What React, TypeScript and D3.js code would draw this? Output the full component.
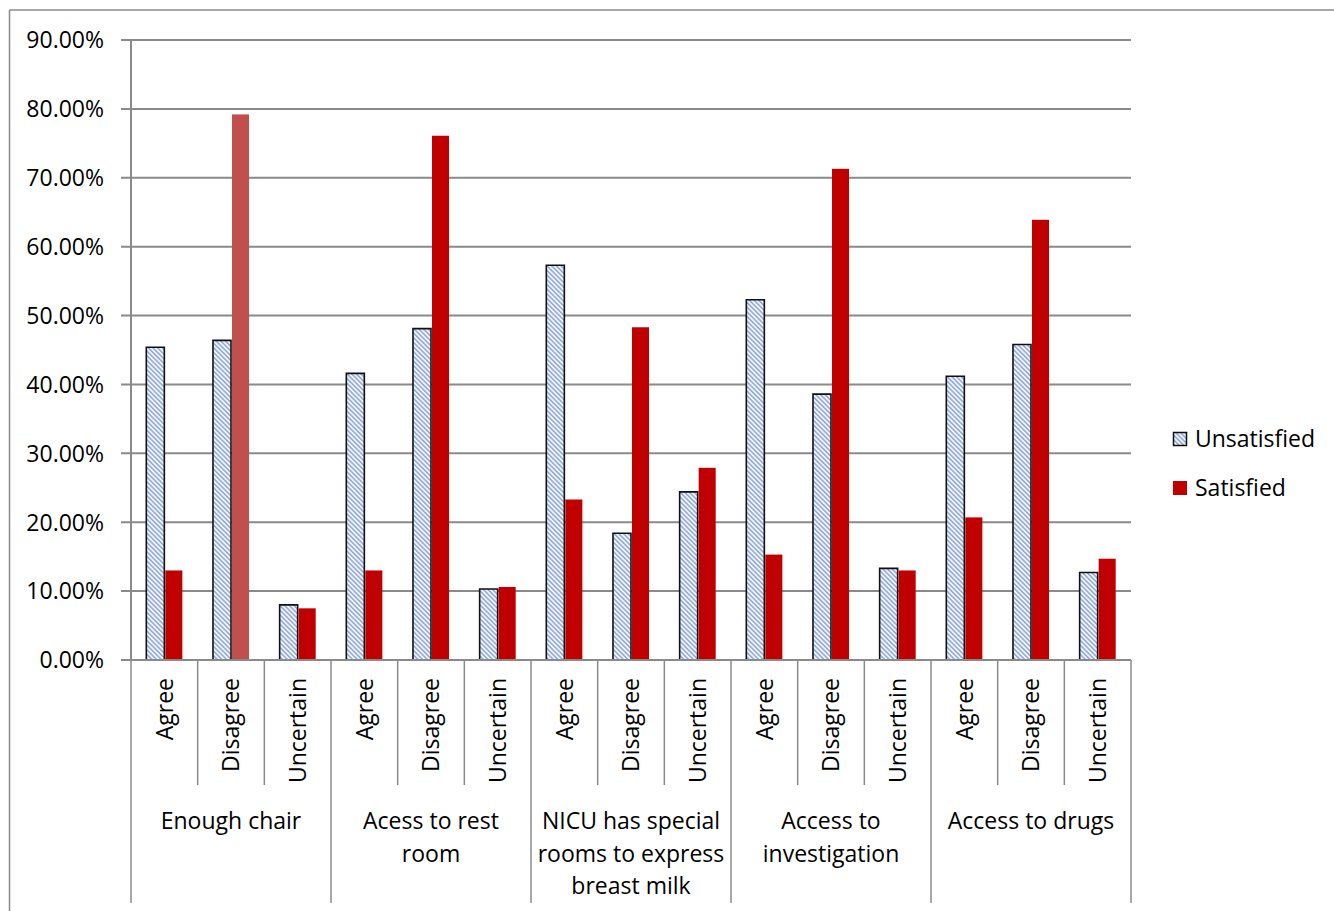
import React from 'react';
import * as d3 from 'd3';

const groupLabels = [
  ['Enough chair'],
  ['Acess to rest', 'room'],
  ['NICU has special', 'rooms to express', 'breast milk'],
  ['Access to', 'investigation'],
  ['Access to drugs'],
];
const responses = ['Agree', 'Disagree', 'Uncertain'];
const seriesNames = ['Unsatisfied', 'Satisfied'];
// percentages, in order group x response
const unsatisfied = [45.4, 46.4, 8.0, 41.6, 48.1, 10.3, 57.3, 18.4, 24.4, 52.3, 38.6, 13.3, 41.2, 45.8, 12.7];
const satisfied = [13.0, 79.2, 7.5, 13.0, 76.1, 10.6, 23.3, 48.3, 27.9, 15.3, 71.3, 13.0, 20.7, 63.9, 14.7];
const yTicks = [0, 10, 20, 30, 40, 50, 60, 70, 80, 90];

const highlightIndex = 1; // bar drawn in a lighter red in the original

export default function App() {
  const W = 1334;
  const H = 911;
  const left = 131;
  const right = 1131;
  const top = 40;
  const bottom = 660;
  const font = '"Open Sans", "Noto Sans", sans-serif';
  const grid = '#8a8a8a';
  const fs = 23;

  const cats = groupLabels.flatMap((_, gi) => responses.map((r) => ({ gi, r, key: `${gi}-${r}` })));
  const x = d3.scaleBand<string>().domain(cats.map((c) => c.key)).range([left, right]).paddingInner(0).paddingOuter(0);
  const xs = d3.scaleBand<string>().domain(seriesNames).range([0, x.bandwidth()]).paddingInner(0).paddingOuter(0.85);
  const y = d3.scaleLinear().domain([0, 90]).range([bottom, top]);
  const fmt = (v: number) => d3.format('.2f')(v) + '%';

  const boundaries = d3.range(cats.length + 1).map((i) => left + i * x.step());

  return (
    <svg width={W} height={H} style={{ position: 'fixed', left: 0, top: 0, background: '#fff' }} fontFamily={font}>
      <defs>
        <pattern id="hatch" patternUnits="userSpaceOnUse" width="3.3" height="3.3" patternTransform="rotate(-45)">
          <rect width="3.3" height="3.3" fill="#f1f5fb" />
          <line x1="0.8" y1="0" x2="0.8" y2="3.3" stroke="#7f9bcc" strokeWidth="1.3" />
        </pattern>
      </defs>
      {/* outer frame */}
      <line x1={9.5} y1={10} x2={W} y2={10} stroke={grid} strokeWidth={1.5} />
      <line x1={9.5} y1={10} x2={9.5} y2={H} stroke={grid} strokeWidth={1.5} />

      {/* gridlines and y ticks */}
      {yTicks.map((t) => (
        <g key={t}>
          <line x1={121} x2={right} y1={y(t)} y2={y(t)} stroke={grid} strokeWidth={2} />
          <text x={104} y={y(t)} dy="0.36em" textAnchor="end" fontSize={fs} fill="#000">
            {fmt(t)}
          </text>
        </g>
      ))}
      <line x1={left} x2={left} y1={top} y2={bottom} stroke={grid} strokeWidth={2} />

      {/* bars */}
      {cats.map((c, i) => {
        const x0 = x(c.key)!;
        const ux = x0 + xs('Unsatisfied')!;
        const sx = x0 + xs('Satisfied')!;
        const bw = xs.bandwidth();
        const uy = y(unsatisfied[i]);
        const sy = y(satisfied[i]);
        return (
          <g key={c.key}>
            <rect x={ux} y={uy} width={bw} height={bottom - uy} fill="url(#hatch)" />
            <path
              d={`M${ux},${bottom} V${uy} H${ux + bw} V${bottom}`}
              fill="none"
              stroke="#111"
              strokeWidth={1.6}
            />
            <rect
              x={sx + 1}
              y={sy}
              width={bw - 1}
              height={bottom - sy}
              fill={i === highlightIndex ? '#c0504d' : '#c00000'}
            />
          </g>
        );
      })}

      {/* x axis */}
      <line x1={121} x2={right} y1={bottom} y2={bottom} stroke={grid} strokeWidth={2} />
      {boundaries.map((bx, i) => (
        <line
          key={i}
          x1={bx}
          x2={bx}
          y1={bottom}
          y2={i % 3 === 0 ? 903 : 785}
          stroke={grid}
          strokeWidth={1.5}
        />
      ))}
      {cats.map((c) => {
        const cx = x(c.key)! + x.bandwidth() / 2;
        return (
          <text
            key={c.key}
            transform={`translate(${cx},678) rotate(-90)`}
            textAnchor="end"
            dy="0.36em"
            fontSize={fs}
            fill="#000"
          >
            {c.r}
          </text>
        );
      })}
      {groupLabels.map((lines, gi) => {
        const cx = left + (gi * 3 + 1.5) * x.step();
        return (
          <text key={gi} textAnchor="middle" fontSize={fs} fill="#000">
            {lines.map((ln, li) => (
              <tspan key={li} x={cx} y={829 + li * 32.5}>
                {ln}
              </tspan>
            ))}
          </text>
        );
      })}

      {/* legend */}
      <rect x={1173.5} y={432.5} width={13} height={13} fill="url(#hatch)" stroke="#111" strokeWidth={1.5} />
      <text x={1195} y={439} dy="0.36em" fontSize={fs} fill="#000">
        {seriesNames[0]}
      </text>
      <rect x={1173} y={481} width={14} height={14} fill="#c00000" />
      <text x={1195} y={488} dy="0.36em" fontSize={fs} fill="#000">
        {seriesNames[1]}
      </text>
    </svg>
  );
}
